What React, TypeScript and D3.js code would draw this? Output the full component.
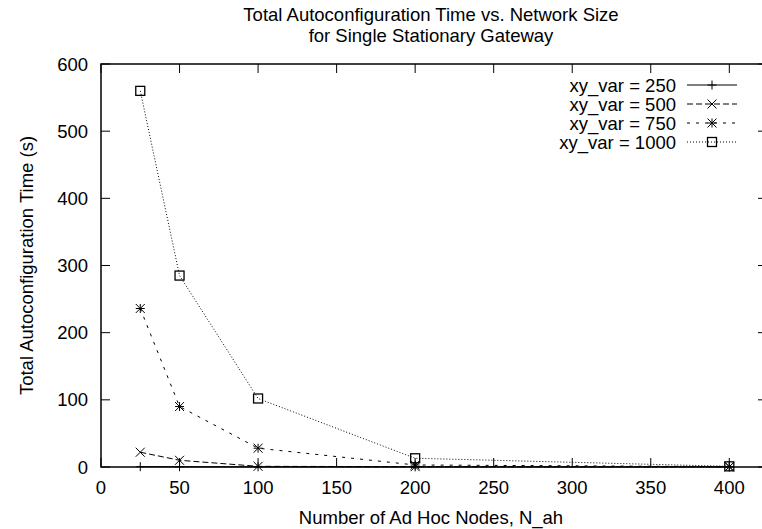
import React from 'react';
import { scaleLinear, line } from 'd3';

// node counts
const nodes = [25, 50, 100, 200, 400];
// total autoconfiguration time (s) per xy_var
const var250 = [0.5, 0.4, 0.3, 0.2, 0.1];
const var500 = [22, 10, 1, 0.5, 0.3];
const var750 = [236, 90, 28, 3, 0.5];
const var1000 = [560, 285, 102, 13, 1];

const seriesNames = ['xy_var = 250', 'xy_var = 500', 'xy_var = 750', 'xy_var = 1000'];
const xTicks = [0, 50, 100, 150, 200, 250, 300, 350, 400];
const yTicks = [0, 100, 200, 300, 400, 500, 600];

const width = 762, height = 529;
const margin = { top: 64, right: -5, bottom: 62, left: 101 };
const font = '"Liberation Sans", Arial, Helvetica, sans-serif';
const fs = 18.5;

const dashes = [null, '6,3', '3,6', '1,2'];

function Marker({ kind, x, y }: { kind: number; x: number; y: number }) {
  const s = 4.5;
  if (kind === 0)
    return <path d={`M${x - s},${y}H${x + s}M${x},${y - s}V${y + s}`} stroke="#000" strokeWidth={1} />;
  if (kind === 1)
    return <path d={`M${x - s},${y - s}L${x + s},${y + s}M${x - s},${y + s}L${x + s},${y - s}`} stroke="#000" strokeWidth={1} />;
  if (kind === 2)
    return (
      <path
        d={`M${x - s},${y}H${x + s}M${x},${y - s}V${y + s}M${x - s},${y - s}L${x + s},${y + s}M${x - s},${y + s}L${x + s},${y - s}`}
        stroke="#000"
        strokeWidth={1}
      />
    );
  return <rect x={x - s} y={y - s} width={2 * s} height={2 * s} fill="none" stroke="#000" strokeWidth={1.3} />;
}

export default function App() {
  const x = scaleLinear().domain([0, 424]).range([margin.left, width - margin.right]);
  const y = scaleLinear().domain([0, 600]).range([height - margin.bottom, margin.top]);
  const x0 = x(0), x1 = x(424), y0 = y(0), y1 = y(600);

  const all = [var250, var500, var750, var1000];
  const gen = line<number>()
    .x((_, i) => x(nodes[i]))
    .y((d) => y(d));

  const tick = 9;
  const legX = 676;
  const legY = [85, 104, 123, 142];

  return (
    <svg width={width} height={height} style={{ position: 'absolute', left: 0, top: 0, background: '#fff' }} fontFamily={font}>
      <rect width={width} height={height} fill="#fff" />
      <text x={431} y={21} textAnchor="middle" fontSize={fs}>Total Autoconfiguration Time vs. Network Size</text>
      <text x={431} y={42} textAnchor="middle" fontSize={fs}>for Single Stationary Gateway</text>

      {/* ticks */}
      {xTicks.map((t) => (
        <g key={'x' + t}>
          <line x1={x(t)} x2={x(t)} y1={y0} y2={y0 - tick} stroke="#000" />
          <line x1={x(t)} x2={x(t)} y1={y1} y2={y1 + tick} stroke="#000" />
          <text x={x(t)} y={y0 + 27} textAnchor="middle" fontSize={fs}>{t}</text>
        </g>
      ))}
      {yTicks.map((t) => (
        <g key={'y' + t}>
          <line x1={x0} x2={x0 + tick} y1={y(t)} y2={y(t)} stroke="#000" />
          <line x1={x1} x2={x1 - tick} y1={y(t)} y2={y(t)} stroke="#000" />
          <text x={88} y={y(t) + 6.6} textAnchor="end" fontSize={fs}>{t}</text>
        </g>
      ))}

      {/* series */}
      {all.map((vals, k) => (
        <g key={'s' + k}>
          <path d={gen(vals) || ''} fill="none" stroke="#000" strokeWidth={1} strokeDasharray={dashes[k] || undefined} />
          {vals.map((v, i) => (
            <Marker key={i} kind={k} x={x(nodes[i])} y={y(v)} />
          ))}
        </g>
      ))}

      <rect x={x0} y={y1} width={x1 - x0} height={y0 - y1} fill="none" stroke="#000" strokeWidth={1.5} />

      {/* legend */}
      {seriesNames.map((n, k) => (
        <g key={'l' + k}>
          <text x={legX} y={legY[k] + 6.6} textAnchor="end" fontSize={fs}>{n}</text>
          <line x1={legX + 11} x2={legX + 61} y1={legY[k]} y2={legY[k]} stroke="#000" strokeDasharray={dashes[k] || undefined} />
          <Marker kind={k} x={legX + 36} y={legY[k]} />
        </g>
      ))}

      <text x={431} y={524} textAnchor="middle" fontSize={fs}>Number of Ad Hoc Nodes, N_ah</text>
      <text transform={`translate(33,${(y0 + y1) / 2}) rotate(-90)`} textAnchor="middle" fontSize={fs}>Total Autoconfiguration Time (s)</text>
    </svg>
  );
}
